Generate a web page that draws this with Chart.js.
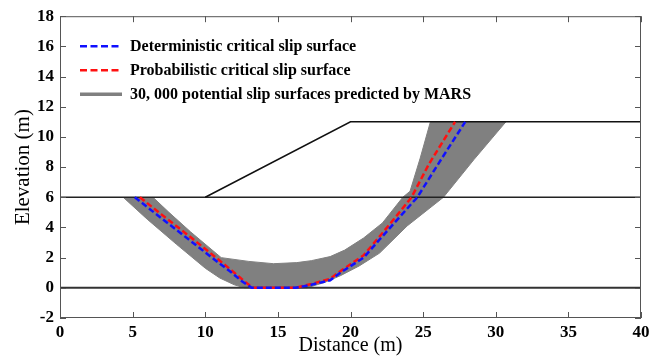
<!DOCTYPE html>
<html>
<head>
<meta charset="utf-8">
<script src="https://cdn.jsdelivr.net/npm/chart.js@4.4.0/dist/chart.umd.min.js"></script>
<style>
  html, body { margin: 0; padding: 0; background: #fff; }
</style>
</head>
<body>
<canvas id="myChart" width="666" height="356"></canvas>
<script>
// axis ticks
const xTicks = [0, 5, 10, 15, 20, 25, 30, 35, 40];
const yTicks = [-2, 0, 2, 4, 6, 8, 10, 12, 14, 16, 18];

// slope geometry
const slopeX = [10, 20, 40];
const slopeY = [6, 11, 11];
const toeX = [0, 40];
const toeY = [6, 6];
const baseX = [0, 40];
const baseY = [0, 0];

// envelope of the 30,000 MARS surfaces (outer edge, then inner edge back)
const bandX = [4.35, 6, 8, 10, 11, 12, 12.7, 17, 18.2, 19.3, 20.6, 22, 23.9, 26.4, 28.5, 30.7,
               25.5, 24.8, 24.1, 23.6, 22.2, 20.9, 19.6, 18.6, 17.3, 16.3, 14.7, 13, 11.1, 9, 7.5, 6.4];
const bandY = [6, 4.55, 2.9, 1.3, 0.65, 0.2, 0, 0, 0.35, 0.8, 1.45, 2.3, 4.1, 6, 8.5, 11,
               11, 8.6, 6.4, 6, 4.3, 3.3, 2.5, 2.07, 1.8, 1.67, 1.6, 1.75, 2.0, 3.7, 5.0, 6];

// deterministic critical slip surface
const detX = [5.15, 7, 9, 11, 11.7, 12.5, 13.2, 16.2, 17.3, 18.6, 19.3, 20.9, 22, 23.3, 24.6, 26.1, 27.9];
const detY = [6, 4.6, 3.1, 1.6, 1.1, 0.45, 0, 0, 0.2, 0.5, 1.0, 2.0, 3.2, 4.6, 6, 8.3, 11];

// probabilistic critical slip surface
const probX = [5.5, 7, 9, 11, 12, 12.8, 13.3, 16.2, 17.3, 18.6, 19.3, 20.9, 22, 23.2, 24.2, 25.4, 27.2];
const probY = [6, 4.85, 3.35, 1.8, 1.0, 0.35, 0, 0, 0.25, 0.6, 1.1, 2.15, 3.4, 4.8, 6, 8.2, 11];

const legendLabels = [
    'Deterministic critical slip surface',
    'Probabilistic critical slip surface',
    '30, 000 potential slip surfaces predicted by MARS'
];

function pts(xs, ys) {
    return xs.map((x, i) => ({ x: x, y: ys[i] }));
}

const serif = 'Liberation Serif, Times New Roman, serif';

const framePlugin = {
    id: 'frame',
    afterDatasetsDraw(chart) {
        const { ctx, chartArea: a, scales: { x, y } } = chart;
        ctx.save();
        ctx.strokeStyle = '#555';
        ctx.lineWidth = 1;
        ctx.strokeRect(a.left + 0.5, a.top + 0.5, a.right - a.left - 1, a.bottom - a.top - 1);
        ctx.beginPath();
        xTicks.forEach(v => {
            const px = Math.round(x.getPixelForValue(v)) + 0.5;
            ctx.moveTo(px, a.bottom); ctx.lineTo(px, a.bottom - 6);
            ctx.moveTo(px, a.top); ctx.lineTo(px, a.top + 6);
        });
        yTicks.forEach(v => {
            const py = Math.round(y.getPixelForValue(v)) + 0.5;
            ctx.moveTo(a.left, py); ctx.lineTo(a.left + 6, py);
            ctx.moveTo(a.right, py); ctx.lineTo(a.right - 6, py);
        });
        ctx.stroke();

        // legend, top left inside the plot
        const styles = [
            { color: '#1010ff', dash: [7, 3.5], width: 2.5 },
            { color: '#ff1010', dash: [7, 3.5], width: 2.5 },
            { color: '#808080', dash: [], width: 3.5 }
        ];
        ctx.font = 'bold 16px ' + serif;
        ctx.textBaseline = 'middle';
        ctx.fillStyle = '#000';
        legendLabels.forEach((t, i) => {
            const ly = a.top + 30 + i * 24;
            ctx.beginPath();
            ctx.setLineDash(styles[i].dash);
            ctx.strokeStyle = styles[i].color;
            ctx.lineWidth = styles[i].width;
            ctx.moveTo(a.left + 20, ly);
            ctx.lineTo(a.left + 62, ly);
            ctx.stroke();
            ctx.setLineDash([]);
            ctx.fillText(t, a.left + 70, ly + 1);
        });
        ctx.restore();
    }
};

const ctx = document.getElementById('myChart');

new Chart(ctx, {
    type: 'line',
    data: {
        datasets: [{
            data: pts(detX, detY),
            borderColor: '#1010ff',
            borderWidth: 2.5,
            borderDash: [6, 3],
            pointRadius: 0,
            fill: false
        }, {
            data: pts(probX, probY),
            borderColor: '#ff1010',
            borderWidth: 2.5,
            borderDash: [6, 3],
            pointRadius: 0,
            fill: false
        }, {
            data: pts(slopeX, slopeY),
            borderColor: '#111',
            borderWidth: 1.5,
            pointRadius: 0,
            fill: false
        }, {
            data: pts(toeX, toeY),
            borderColor: '#222',
            borderWidth: 1.5,
            pointRadius: 0,
            fill: false
        }, {
            data: pts(baseX, baseY),
            borderColor: '#333',
            borderWidth: 2,
            pointRadius: 0,
            fill: false
        }, {
            data: pts(bandX, bandY),
            borderColor: '#808080',
            backgroundColor: '#808080',
            borderWidth: 1,
            pointRadius: 0,
            fill: 'shape'
        }]
    },
    options: {
        responsive: false,
        animation: false,
        layout: {
            padding: { top: 15, right: 25, left: 0, bottom: 0 }
        },
        plugins: {
            legend: { display: false },
            tooltip: { enabled: false }
        },
        scales: {
            x: {
                type: 'linear',
                min: 0,
                max: 40,
                afterFit(s) { s.height = 38; },
                grid: { display: false, drawTicks: false },
                border: { display: false },
                ticks: {
                    stepSize: 5,
                    padding: 4,
                    color: '#000',
                    font: { family: serif, size: 17, weight: 'bold' }
                },
                title: {
                    display: true,
                    text: 'Distance (m)',
                    color: '#000',
                    padding: { top: 0, bottom: 0 },
                    font: { family: serif, size: 20, lineHeight: 1 }
                }
            },
            y: {
                min: -2,
                max: 18,
                afterFit(s) { s.width = 60; },
                grid: { display: false, drawTicks: false },
                border: { display: false },
                ticks: {
                    stepSize: 2,
                    padding: 6,
                    color: '#000',
                    font: { family: serif, size: 17, weight: 'bold' }
                },
                title: {
                    display: true,
                    text: 'Elevation (m)',
                    color: '#000',
                    padding: { top: 13, bottom: 0 },
                    font: { family: serif, size: 21, lineHeight: 1 }
                }
            }
        }
    },
    plugins: [framePlugin]
});
</script>
</body>
</html>
